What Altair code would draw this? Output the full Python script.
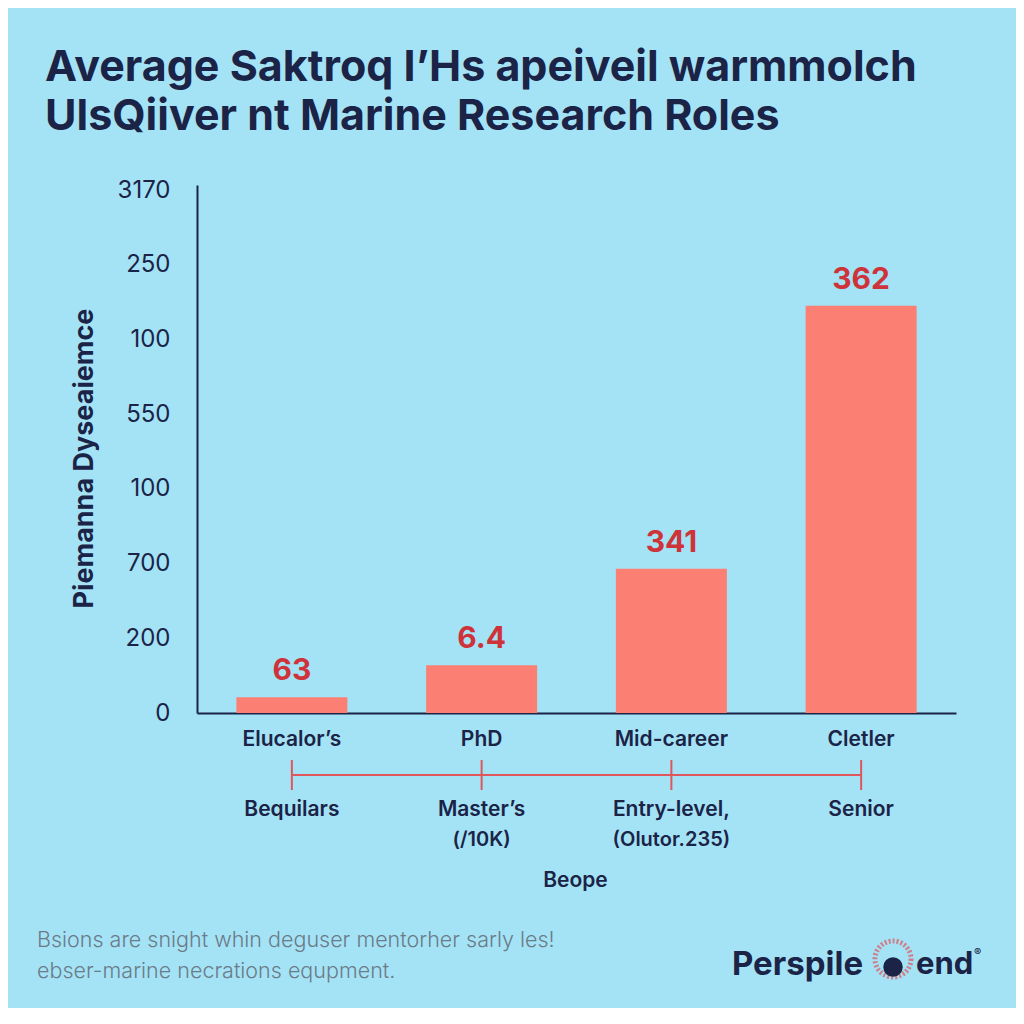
import altair as alt
import pandas as pd

# ---- data ----
categories = ["Bequilars", "Master’s", "Entry-level,", "Senior"]
top_labels = ["Elucalor’s", "PhD", "Mid-career", "Cletler"]
sub_labels = ["", "(/10K)", "(Olutor.235)", ""]
bar_heights = [0.21, 0.64, 1.93, 5.45]          # in axis-tick units
bar_labels = ["63", "6.4", "341", "362"]
tick_positions = [0, 1, 2, 3, 4, 5, 6, 7]
tick_labels = ["0", "200", "700", "100", "550", "100", "250", "3170"]
title_lines = ["Average Saktroq I’Hs apeiveil warmmolch",
               "UlsQiiver nt Marine Research Roles"]
y_title = "Piemanna Dyseaiemce"
x_title = "Beope"
footer_lines = ["Bsions are snight whin deguser mentorher sarly les!",
                "ebser-marine necrations equpment."]
logo_left = "Perspile"
logo_right = "end"
logo_mark = "®"

NAVY = "#1b2447"
BG = "#a4e3f6"
BAR = "#fb8073"
RED_TXT = "#cf333a"
RED_LINE = "#e0565c"
FONT = "Inter"

df = pd.DataFrame({
    "cat": categories,
    "top": top_labels,
    "sub": sub_labels,
    "h": bar_heights,
    "lab": bar_labels,
})

label_expr = "[" + ",".join('"%s"' % t for t in tick_labels) + "][datum.value]"

xenc = alt.X("cat:N", sort=categories,
             scale=alt.Scale(paddingInner=0.415, paddingOuter=0.2075),
             axis=alt.Axis(labels=False, ticks=False, domainColor=NAVY,
                           domainWidth=2, title=x_title, titleFont=FONT,
                           titleFontSize=21, titleFontWeight=600,
                           titleColor=NAVY, titleX=378, titleY=167,
                           titleBaseline="middle"))
yenc = alt.Y("h:Q",
             scale=alt.Scale(domain=[0, 7.067], nice=False, zero=True),
             axis=alt.Axis(values=tick_positions, labelExpr=label_expr,
                           grid=False, ticks=False, domainColor=NAVY,
                           domainWidth=2, labelFont=FONT,
                           labelFontSize=24, labelColor=NAVY,
                           labelPadding=27, title=y_title,
                           titleFont=FONT, titleFontSize=27,
                           titleFontWeight="bold", titleColor=NAVY,
                           titleX=-99, titleY=273))

base = alt.Chart(df)
xcat = alt.X("cat:N", sort=categories)

bars = base.mark_bar(color=BAR).encode(x=xenc, y=yenc)

values = base.mark_text(dy=-11, baseline="bottom", font=FONT,
                        fontSize=30, fontWeight="bold",
                        color=RED_TXT).encode(x=xcat, y="h:Q", text="lab:N")

tops = base.mark_text(font=FONT, fontSize=21, fontWeight=600,
                      color=NAVY, baseline="middle").encode(
    x=xcat, y=alt.value(555), text="top:N")

tline = base.mark_line(color=RED_LINE, strokeWidth=2).encode(
    x=xcat, y=alt.value(590))

tticks = base.mark_rule(color=RED_LINE, strokeWidth=2).encode(
    x=xcat, y=alt.value(575), y2=alt.value(605))

bottoms = base.mark_text(font=FONT, fontSize=21, fontWeight=600,
                         color=NAVY, baseline="middle").encode(
    x=xcat, y=alt.value(625), text="cat:N")

subs = base.mark_text(font=FONT, fontSize=20, fontWeight=600,
                      color=NAVY, baseline="middle").encode(
    x=xcat, y=alt.value(655), text="sub:N")


def free_text(txt, x, y, **kw):
    return alt.Chart(pd.DataFrame({"t": [txt]})).mark_text(
        align="left", baseline="middle", **kw).encode(
        x=alt.value(x), y=alt.value(y), text="t:N")


foot1 = free_text(footer_lines[0], -160, 756, font=FONT, fontSize=21.5,
                  fontWeight=300, color="#6b7b88")
foot2 = free_text(footer_lines[1], -160, 787, font=FONT, fontSize=21.5,
                  fontWeight=300, color="#6b7b88")
logo1 = free_text(logo_left, 535, 780, font=FONT, fontSize=33,
                  fontWeight="bold", color=NAVY)
logo2 = free_text(logo_right, 719, 780, font=FONT, fontSize=31,
                  fontWeight="bold", color=NAVY)
logo3 = free_text(logo_mark, 777, 768, font=FONT, fontSize=11,
                  fontWeight="bold", color=NAVY)

logo_ring = alt.Chart(pd.DataFrame({"t": [1]})).mark_point(
    shape="circle", size=1300, strokeWidth=5, color=RED_LINE,
    strokeDash=[2, 2], filled=False).encode(x=alt.value(696), y=alt.value(774))
logo_dot = alt.Chart(pd.DataFrame({"t": [1]})).mark_point(
    shape="circle", size=380, color=NAVY, filled=True, opacity=1).encode(
    x=alt.value(696), y=alt.value(782))

chart = alt.layer(
    bars, values, tops, tline, tticks, bottoms, subs,
    foot1, foot2, logo_ring, logo_dot, logo1, logo2, logo3,
).properties(
    width=759, height=528,
    background=BG,
    autosize=alt.AutoSizeParams(type="none"),
    padding={"left": 189, "top": 177, "right": 60, "bottom": 295},
    title=alt.TitleParams(
        text=title_lines, anchor="start", frame="group", dx=-152,
        font=FONT, fontSize=43, fontWeight="bold", color=NAVY,
        lineHeight=49, offset=39),
).configure_view(stroke=None)

chart.save("out.html", embed_options={"renderer": "svg", "actions": False})
